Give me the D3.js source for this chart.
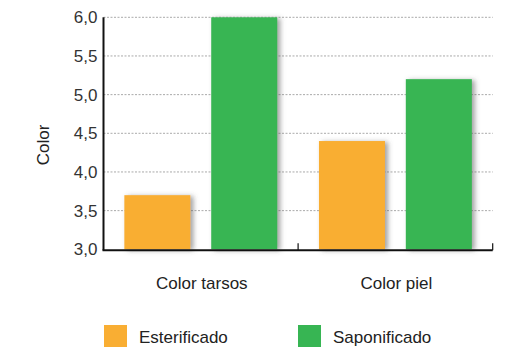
<!DOCTYPE html>
<html>
<head>
<meta charset="utf-8">
<script src="https://cdn.jsdelivr.net/npm/d3@7/dist/d3.min.js"></script>
<style>
  html, body { margin: 0; padding: 0; background: #fff; }
  svg { display: block; font-family: "Liberation Sans", Arial, sans-serif; }
</style>
</head>
<body>
<svg id="chart" width="510" height="347"></svg>
<script>
// Chart data
const categories = ["Color tarsos", "Color piel"];
const seriesNames = ["Esterificado", "Saponificado"];
const esterificado = [3.7, 4.4];
const saponificado = [6.0, 5.2];
const yTicks = [3.0, 3.5, 4.0, 4.5, 5.0, 5.5, 6.0];
const colors = ["#F9AE33", "#37B553"];
const yLabel = "Color";

const svg = d3.select("#chart");
const plotLeft = 103.5, plotRight = 492.7, plotTop = 17.3, plotBottom = 249.3;
const fontSize = 17;

const defs = svg.append("defs");
const f = defs.append("filter").attr("id", "shadow")
  .attr("x", "-20%").attr("y", "-20%").attr("width", "150%").attr("height", "150%");
f.append("feDropShadow").attr("dx", 3).attr("dy", 1).attr("stdDeviation", 2.5)
  .attr("flood-color", "#555").attr("flood-opacity", 0.55);

const x0 = d3.scaleBand().domain(categories).range([plotLeft, plotRight]).paddingInner(0).paddingOuter(0);
const x1 = d3.scaleBand().domain(seriesNames).range([0, x0.bandwidth()]).paddingInner(0.24).paddingOuter(0.24);
const y = d3.scaleLinear().domain([3, 6]).range([plotBottom, plotTop]);

// Dotted gridlines
svg.append("g").selectAll("line").data(yTicks.filter(t => t > 3)).join("line")
  .attr("x1", plotLeft).attr("x2", plotRight)
  .attr("y1", d => y(d)).attr("y2", d => y(d))
  .attr("stroke", "#aaa").attr("stroke-width", 1).attr("stroke-dasharray", "2,1.5");

// Y axis labels
const yAxis = d3.axisLeft(y).tickValues(yTicks)
  .tickFormat(d => d3.format(".1f")(d).replace(".", ","))
  .tickSize(0).tickPadding(6);
const gy = svg.append("g").attr("transform", `translate(${plotLeft},0)`).call(yAxis);
gy.select(".domain").remove();
gy.selectAll("text").attr("font-size", fontSize).attr("fill", "#333")
  .attr("font-family", "Liberation Sans, Arial, sans-serif");

// Bars
const rows = categories.map((c, i) => ({ cat: c, values: [esterificado[i], saponificado[i]] }));
const groups = svg.append("g").selectAll("g").data(rows).join("g")
  .attr("transform", d => `translate(${x0(d.cat)},0)`);
groups.selectAll("rect").data(d => d.values.map((v, j) => ({ name: seriesNames[j], v, j })))
  .join("rect")
  .attr("x", d => x1(d.name))
  .attr("width", x1.bandwidth())
  .attr("y", d => y(d.v))
  .attr("height", d => y(3) - y(d.v))
  .attr("fill", d => colors[d.j])
  .attr("filter", "url(#shadow)");

// Axis lines
svg.append("line").attr("x1", plotLeft).attr("x2", plotLeft).attr("y1", plotTop).attr("y2", plotBottom + 1)
  .attr("stroke", "#111").attr("stroke-width", 2);
svg.append("line").attr("x1", plotLeft - 1).attr("x2", plotRight).attr("y1", plotBottom + 1).attr("y2", plotBottom + 1)
  .attr("stroke", "#111").attr("stroke-width", 2);
// Category separator ticks
svg.append("g").selectAll("line").data(categories).join("line")
  .attr("x1", d => x0(d) + x0.bandwidth()).attr("x2", d => x0(d) + x0.bandwidth())
  .attr("y1", plotBottom - 6).attr("y2", plotBottom + 1)
  .attr("stroke", "#111").attr("stroke-width", 1.2);

// Category labels
svg.append("g").selectAll("text").data(categories).join("text")
  .attr("x", d => x0(d) + x0.bandwidth() / 2 + 1)
  .attr("y", 288.5)
  .attr("text-anchor", "middle").attr("font-size", fontSize).attr("fill", "#222")
  .text(d => d);

// Y axis title
svg.append("text").attr("transform", "translate(48.5,145) rotate(-90)")
  .attr("text-anchor", "middle").attr("font-size", fontSize).attr("fill", "#222").text(yLabel);

// Legend
const legendX = [104, 298];
const lg = svg.append("g").selectAll("g").data(seriesNames).join("g")
  .attr("transform", (d, i) => `translate(${legendX[i]},325)`);
lg.append("rect").attr("width", 23).attr("height", 22).attr("fill", (d, i) => colors[i]);
lg.append("text").attr("x", 35).attr("y", 18).attr("font-size", fontSize).attr("fill", "#222").text(d => d);
</script>
</body>
</html>
